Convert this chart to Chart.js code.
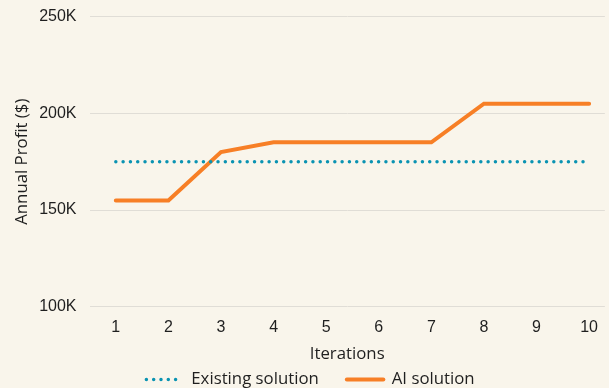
<!DOCTYPE html>
<html>
<head>
<meta charset="utf-8">
<script src="https://cdn.jsdelivr.net/npm/chart.js@4.4.1/dist/chart.umd.min.js"></script>
<style>
  html, body { margin: 0; padding: 0; background: #f9f5eb; }
  #wrap { width: 609px; height: 388px; }
</style>
</head>
<body>
<div id="wrap"><canvas id="chart" width="609" height="388"></canvas></div>
<script>
// Iteration numbers along the x axis
const iterations = [1, 2, 3, 4, 5, 6, 7, 8, 9, 10];
// Annual profit of the current approach (flat baseline)
const existingProfit = [175000, 175000, 175000, 175000, 175000, 175000, 175000, 175000, 175000, 175000];
// Annual profit reached by the AI solution at each iteration
const aiProfit = [155000, 155000, 180000, 185000, 185000, 185000, 185000, 205000, 205000, 205000];
// Y axis tick values
const yTicks = [100000, 150000, 200000, 250000];

const tickFont = { family: "'Liberation Sans', Arial, sans-serif", size: 16 };
const titleFont = { family: "'Open Sans', sans-serif", size: 16.8 };
const ink = '#1f1f1f';
const dotGap = 7.3;

const toPoints = vals => iterations.map((x, i) => ({ x, y: vals[i] }));

// Legend entries take their dash and cap from the dataset line, not the point style
const legendLabels = chart => {
  const items = Chart.defaults.plugins.legend.labels.generateLabels(chart);
  items.forEach(item => {
    const ds = chart.data.datasets[item.datasetIndex];
    item.lineDash = ds.borderDash || [];
    item.lineCap = ds.borderCapStyle || 'butt';
    item.lineWidth = ds.borderWidth;
  });
  return items;
};

new Chart(document.getElementById('chart'), {
  type: 'line',
  data: {
    datasets: [
      {
        label: 'Existing solution',
        data: toPoints(existingProfit),
        borderColor: '#0a93b2',
        backgroundColor: '#0a93b2',
        borderWidth: 3.5,
        borderDash: [0, dotGap],
        borderCapStyle: 'round',
        pointRadius: 0,
        tension: 0
      },
      {
        label: 'AI solution',
        data: toPoints(aiProfit),
        borderColor: '#f77f26',
        backgroundColor: '#f77f26',
        borderWidth: 4,
        borderCapStyle: 'round',
        pointRadius: 0,
        tension: 0
      }
    ]
  },
  options: {
    responsive: false,
    animation: false,
    // the legend row runs slightly past the bottom edge, hence the negative value
    layout: { padding: { top: 0, right: 0, left: 12, bottom: -10 } },
    scales: {
      x: {
        type: 'linear',
        min: 0.5,
        max: 10.3,
        afterBuildTicks: scale => { scale.ticks = iterations.map(v => ({ value: v })); },
        grid: { display: false, drawTicks: false },
        border: { display: false },
        ticks: { color: ink, font: tickFont, padding: 11, callback: v => String(v) },
        title: { display: true, text: 'Iterations', color: ink, font: titleFont, padding: { top: -4, bottom: -21 } }
      },
      y: {
        min: 100000,
        max: 250000,
        afterBuildTicks: scale => { scale.ticks = yTicks.map(v => ({ value: v })); },
        grid: { color: '#e0ddd6', lineWidth: 1, drawTicks: true, tickLength: 6, tickColor: 'rgba(0,0,0,0)' },
        border: { display: false },
        ticks: { color: ink, font: tickFont, padding: 7, callback: v => (v / 1000) + 'K' },
        title: { display: true, text: 'Annual Profit ($)', color: ink, font: titleFont, padding: { top: 0, bottom: 0 } }
      }
    },
    plugins: {
      legend: {
        position: 'bottom',
        labels: {
          usePointStyle: true,
          pointStyle: 'line',
          pointStyleWidth: dotGap * 5,
          boxHeight: 14,
          color: ink,
          font: titleFont,
          padding: 28,
          generateLabels: legendLabels
        }
      },
      tooltip: { enabled: false }
    }
  }
});
</script>
</body>
</html>
